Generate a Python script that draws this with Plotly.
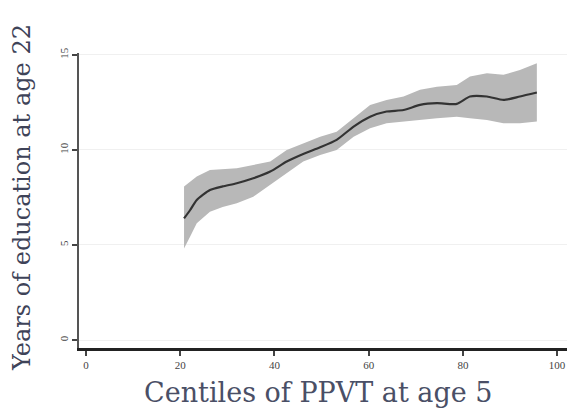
import plotly.graph_objects as go

x_vals = [20.8, 22.1, 23.5, 26.3, 29.0, 32.0, 35.5, 39.1, 42.6, 46.1, 49.7, 53.2, 56.8, 60.3,
          63.8, 67.4, 70.9, 74.5, 78.7, 81.5, 85.1, 88.6, 92.1, 95.7]
fit_vals = [6.4, 6.84, 7.37, 7.89, 8.08, 8.25, 8.51, 8.86, 9.39, 9.79, 10.14, 10.53, 11.23, 11.75,
            12.02, 12.1, 12.37, 12.46, 12.42, 12.81, 12.81, 12.63, 12.81, 13.02]
upper_vals = [8.07, 8.33, 8.6, 8.95, 9.0, 9.04, 9.21, 9.39, 10.0, 10.35, 10.7, 10.96, 11.67, 12.37,
              12.63, 12.81, 13.16, 13.33, 13.42, 13.86, 14.04, 13.95, 14.2, 14.56]
lower_vals = [4.82, 5.44, 6.14, 6.75, 7.0, 7.19, 7.54, 8.16, 8.77, 9.39, 9.74, 10.0, 10.7, 11.14,
              11.4, 11.49, 11.58, 11.67, 11.75, 11.67, 11.58, 11.4, 11.4, 11.49]

x_ticks = [0, 20, 40, 60, 80, 100]
y_ticks = [0, 5, 10, 15]

x_title = "Centiles of PPVT at age 5"
y_title = "Years of education at age 22"

fig = go.Figure()
fig.add_trace(go.Scatter(x=x_vals + x_vals[::-1], y=upper_vals + lower_vals[::-1],
                         fill="toself", fillcolor="#b8b8b8", line=dict(width=0),
                         mode="lines", hoverinfo="skip", showlegend=False))
fig.add_trace(go.Scatter(x=x_vals, y=fit_vals, mode="lines",
                         line=dict(color="#333333", width=2.2, shape="spline", smoothing=0.6),
                         showlegend=False))

font_family = "DejaVu Serif, serif"
tick_family = "Liberation Serif, serif"
fig.update_layout(
    width=574, height=410,
    margin=dict(l=79, r=7, t=53, b=62),
    paper_bgcolor="white", plot_bgcolor="white",
    xaxis=dict(range=[-1.5, 102.1], tickvals=x_ticks, showgrid=False, zeroline=False,
               showline=True, linecolor="#222222", linewidth=2.5, ticks="outside",
               ticklen=5, tickcolor="#444444", tickwidth=1.5,
               tickfont=dict(family=tick_family, size=11, color="#444444")),
    yaxis=dict(range=[-0.42, 15.1], tickvals=y_ticks, showgrid=True, gridcolor="#f0f0f0",
               gridwidth=1, zeroline=False, showline=True, linecolor="#555555", linewidth=1.5,
               ticks="outside", ticklen=5, tickcolor="#444444", tickwidth=1.5, tickangle=-90,
               tickfont=dict(family=tick_family, size=11, color="#444444")),
    annotations=[
        dict(text=x_title, xref="paper", yref="paper", x=0.49, y=-0.15, yanchor="middle",
             xanchor="center", showarrow=False,
             font=dict(family=font_family, size=27, color="#4a4f66")),
        dict(text=y_title, xref="paper", yref="paper", x=-0.118, y=0.51, xanchor="center",
             yanchor="middle", textangle=-90, showarrow=False,
             font=dict(family=font_family, size=24, color="#3e4358")),
    ],
)

fig.write_html("out.html")
